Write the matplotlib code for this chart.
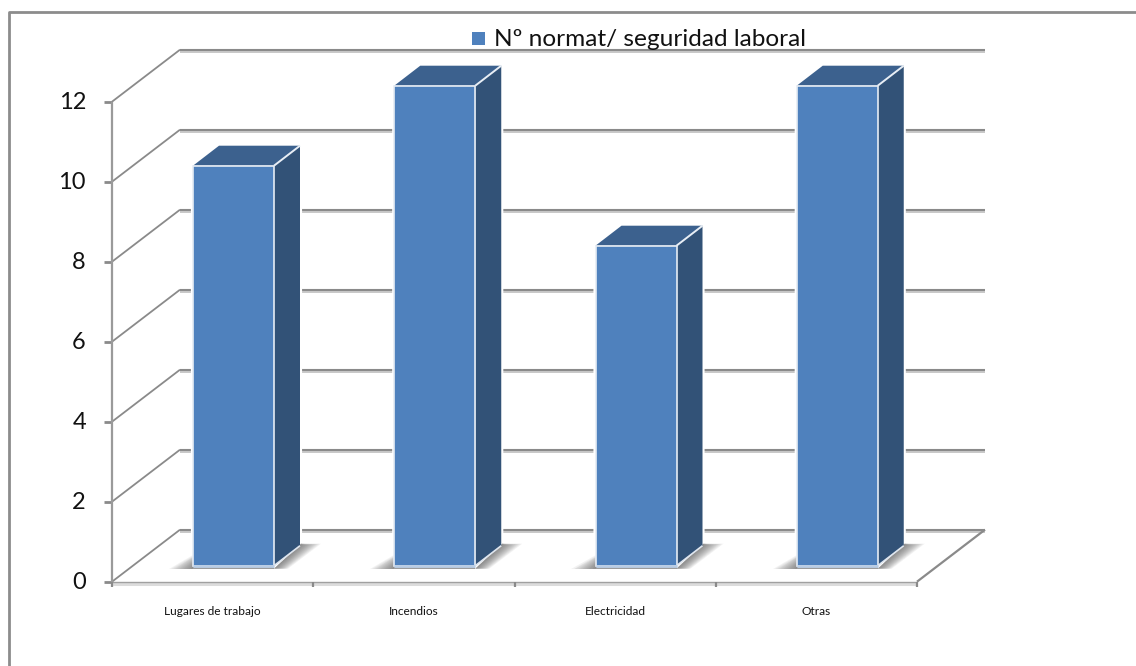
#!/usr/bin/env python3
import matplotlib
matplotlib.use("Agg")
import matplotlib.pyplot as plt
from matplotlib.patches import Polygon, Rectangle

categories = ["Lugares de trabajo", "Incendios", "Electricidad", "Otras"]
values = [10, 12, 8, 12]
y_ticks = [0, 2, 4, 6, 8, 10, 12]
series_name = "Nº normat/ seguridad laboral"

W, H = 1136, 666
FRONT, SIDE, TOP = "#4f81bd", "#325277", "#3c618e"
GRID = "#8a8a8a"

plt.rcParams["font.family"] = ["Lato", "DejaVu Sans"]

fig = plt.figure(figsize=(W / 100, H / 100), dpi=100)

# front plane of the 3d box, in pixels: x 112..917, y 581.7..101.7
ax = fig.add_axes([112 / W, 1 - 581.7 / H, 805 / W, 480 / H])
ax.set_xlim(0, 4)
ax.set_ylim(0, 12)
ax.axis("off")

px_x = 805 / 4
px_y = 480 / 12


def depth(dx_px, dy_px):
    # shift in data units for a pixel offset into the box
    return dx_px / px_x, dy_px / px_y


def poly(pts, **kw):
    kw.setdefault("lw", 0)
    kw.setdefault("clip_on", False)
    p = Polygon(pts, closed=True, **kw)
    ax.add_patch(p)
    return p


def line(xs, ys, color=GRID, lw=1.5, z=2):
    ax.plot(xs, ys, color=color, lw=lw, clip_on=False, zorder=z, solid_capstyle="butt")


# outer frame of the chart
fig.add_artist(plt.Line2D([9 / W, 9 / W, 1], [0, 1 - 12 / H, 1 - 12 / H], color="#8c8c8c", lw=2.0))

back_x, back_y = depth(68, 52)

# walls: gridlines with a soft light edge below
for t in y_ticks:
    line([back_x, 4 + back_x], [t + back_y - 0.05, t + back_y - 0.05], color="#c4c4c4", lw=1.3, z=1)
    line([back_x, 4 + back_x], [t + back_y, t + back_y], lw=1.5)
    line([0, back_x], [t, t + back_y], lw=1.3)
    line([-8 / px_x, 0], [t, t], lw=2.0)

line([0, 0], [0, 12], color="#9a9a9a", lw=1.6)
line([4, 4 + back_x], [0, back_y], lw=1.6)

# floor front edge and ticks
line([0, 4], [-0.06, -0.06], color="#dcdcdc", lw=2.2)
line([0, 4], [0, 0], color="#a0a0a0", lw=1.0)
for i in range(5):
    line([i, i], [0, -5 / px_y], lw=1.6)

# bars
bar_x0, bar_y0 = depth(81, 16)
bar_w = 81 / px_x
side_x, side_y = depth(26, 20)
low = 3 / px_y

for i, v in enumerate(values):
    x0 = i + bar_x0
    x1 = x0 + bar_w
    y0 = bar_y0
    y1 = v + bar_y0

    # white halo that cuts the gridlines around the bar
    poly([(x0, y0), (x0, y1), (x1, y1), (x1 + side_x, y1 + side_y), (x1 + side_x, y0 + side_y), (x1, y0)],
         fc="white", ec="white", lw=3, zorder=3)

    # floor shadow: stack of fading polygons on both sides of the bar
    n = 12
    for k in range(n):
        f = 1 - k / n
        a = 0.07
        poly([(x1, y0 - low), (x1 + side_x + 1 / px_x, y0 + side_y + 2 / px_y),
              (x1 + side_x + 21 * f / px_x, y0 + side_y + 2 / px_y * f),
              (x1 + 14 * f / px_x, y0 - low)],
             fc="#4a4a4a", alpha=a, zorder=3.5)
        poly([(x0 - 24 * f / px_x, y0 - low), (x0, y0 - low), (x0, y0 + 11 * f / px_y)],
             fc="#4a4a4a", alpha=a, zorder=3.5)
    ax.add_patch(Rectangle((x0, y0 - low), bar_w, low, fc="#9c9c9c", lw=0, clip_on=False, zorder=3.6))

    # top and side faces
    poly([(x0, y1), (x1, y1), (x1 + side_x, y1 + side_y), (x0 + side_x, y1 + side_y)],
         fc=TOP, zorder=4)
    poly([(x1, y0), (x1 + side_x, y0 + side_y), (x1 + side_x, y1 + side_y), (x1, y1)],
         fc=SIDE, zorder=4)
    line([x1, x1 + side_x], [y1, y1 + side_y], color="#e8eef5", lw=1.4, z=5)
    line([x1, x1 + side_x], [y0, y0 + side_y], color="#dfe6ef", lw=1.2, z=5)

    ax.add_patch(Rectangle((x0, y0), bar_w, v, fc=FRONT, ec="#e6ecf4", lw=1.2, clip_on=False, zorder=6))
    line([x0, x1], [y0, y0], color="#b9cde5", lw=2, z=7)

# tick labels
for t in y_ticks:
    ax.text(-26 / px_x, t - 1 / px_y, str(t), ha="right", va="center", fontsize=17, color="#111111", clip_on=False)

for i, c in enumerate(categories):
    ax.text(i + 0.5, -29.5 / px_y, c, ha="center", va="center", fontsize=8.6, color="#111111", clip_on=False)

# legend above the back wall
fig.add_artist(Rectangle((472 / W, 1 - 45 / H), 13 / W, 13 / H, fc=FRONT, lw=0, transform=fig.transFigure))
fig.text(494 / W, 1 - 46 / H, series_name, ha="left", va="baseline", fontsize=17.6, color="#111111", zorder=10)

fig.savefig("out.png", dpi=100)
